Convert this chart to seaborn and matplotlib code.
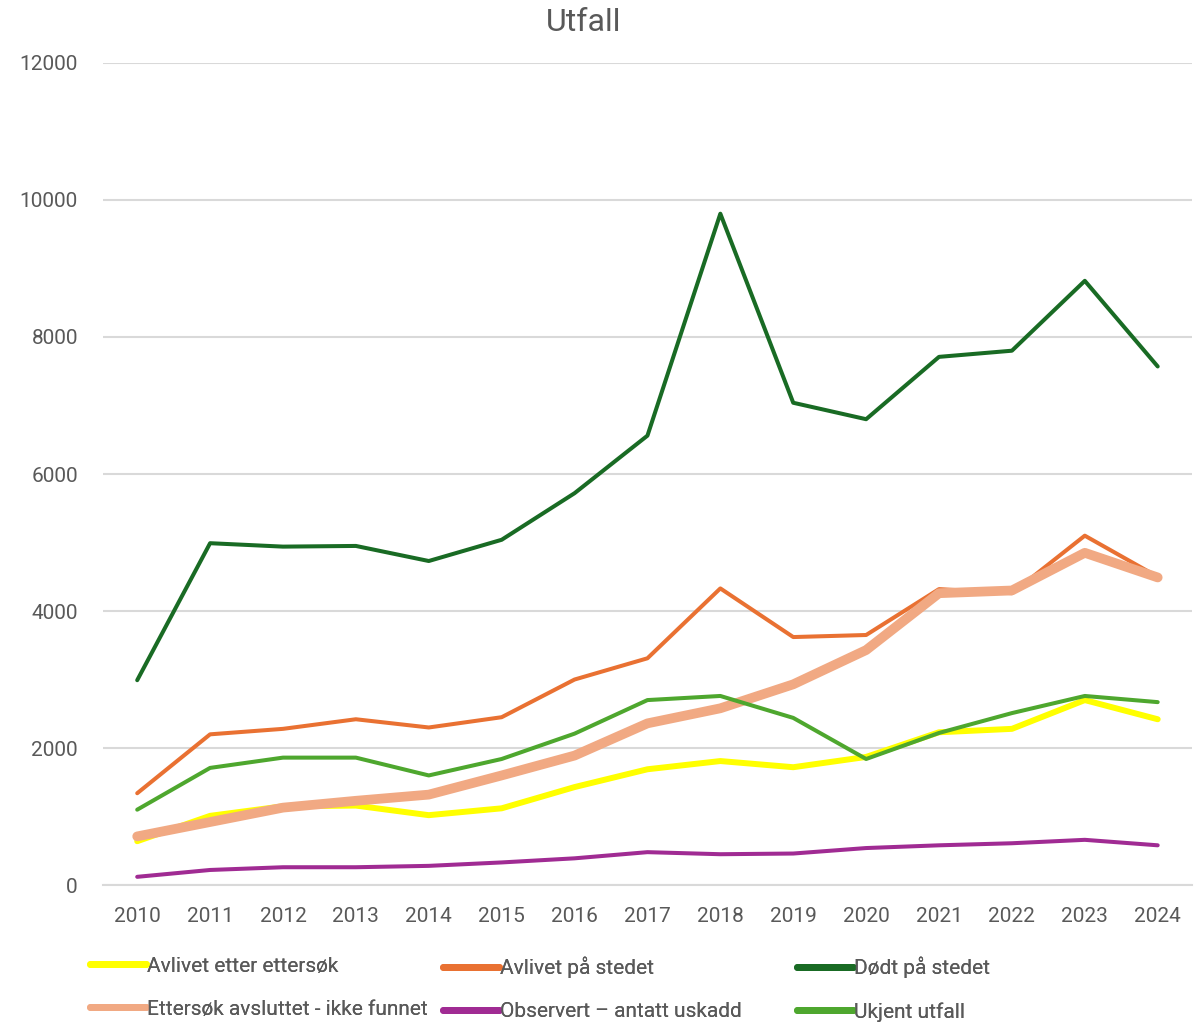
import matplotlib
matplotlib.use("Agg")
import matplotlib.pyplot as plt
from matplotlib.lines import Line2D
import seaborn as sns
import pandas as pd

years = list(range(2010, 2025))

avlivet_etter = [640, 1010, 1150, 1160, 1020, 1120, 1430, 1690, 1810, 1720, 1870, 2230, 2280, 2700, 2420]
avlivet_stedet = [1340, 2200, 2280, 2420, 2300, 2450, 3000, 3310, 4330, 3620, 3650, 4320, 4260, 5100, 4500]
dodt_stedet = [2990, 4990, 4940, 4950, 4730, 5040, 5720, 6560, 9800, 7040, 6800, 7710, 7800, 8820, 7570]
ettersok_ikke = [710, 920, 1130, 1230, 1320, 1600, 1890, 2360, 2580, 2930, 3430, 4260, 4300, 4850, 4490]
observert = [120, 220, 260, 260, 280, 330, 390, 480, 450, 460, 540, 580, 610, 660, 580]
ukjent = [1100, 1710, 1860, 1860, 1600, 1840, 2210, 2700, 2760, 2440, 1840, 2220, 2510, 2760, 2670]

series_names = ["Avlivet etter ettersøk", "Avlivet på stedet", "Dødt på stedet",
                "Ettersøk avsluttet - ikke funnet", "Observert – antatt uskadd", "Ukjent utfall"]
series_vals = [avlivet_etter, avlivet_stedet, dodt_stedet, ettersok_ikke, observert, ukjent]
colors = ["#FFFF00", "#E97132", "#196B24", "#F1A983", "#A02B93", "#4EA72E"]
widths = [4.3, 2.9, 2.9, 7.0, 2.9, 2.9]

sns.set_theme(style="white")
plt.rcParams['font.family'] = ['Roboto', 'DejaVu Sans']
txt = "#595959"

fig = plt.figure(figsize=(12.04, 10.24), dpi=100)
ax = fig.add_axes([0.0855, 0.1357, 0.9045, 0.8028])

for name, vals, c, w in zip(series_names, series_vals, colors, widths):
    df = pd.DataFrame({"year": years, "value": vals})
    sns.lineplot(data=df, x="year", y="value", color=c, linewidth=w, ax=ax,
                 solid_capstyle="round", solid_joinstyle="round", legend=False)

ax.set_xlim(2009.53, 2024.47)
ax.set_ylim(0, 12000)
ax.set_yticks(range(0, 12001, 2000))
ax.set_xticks(years)
ax.yaxis.grid(True, color="#D9D9D9", linewidth=1.5)
ax.xaxis.grid(False)
for s in ["left", "right", "top"]:
    ax.spines[s].set_visible(False)
ax.spines["bottom"].set_color("#D9D9D9")
ax.spines["bottom"].set_linewidth(1.5)
ax.tick_params(axis="both", length=0, labelsize=15, labelcolor=txt)
ax.tick_params(axis="x", pad=16)
ax.tick_params(axis="y", pad=18)
ax.set_xlabel("")
ax.set_ylabel("")
fig.text(0.485, 0.978, "Utfall", fontsize=23, color=txt, ha="center", va="center")

# legend swatches are all the same width in the reference
handles = [Line2D([], [], color=c, linewidth=5, solid_capstyle="round") for c in colors]

# three legend columns at fixed positions, like Excel
col_x = [0.068, 0.361, 0.655]
for i, x in enumerate(col_x):
    leg = fig.legend(handles=[handles[i], handles[i + 3]],
                     labels=[series_names[i], series_names[i + 3]],
                     loc="upper left", bbox_to_anchor=(x, 0.074), ncol=1,
                     frameon=False, fontsize=15, handlelength=2.7,
                     handletextpad=0.05, labelspacing=1.15, borderaxespad=0)
    for t in leg.get_texts():
        t.set_color(txt)
    fig.add_artist(leg)

fig.savefig("out.png", dpi=100)
